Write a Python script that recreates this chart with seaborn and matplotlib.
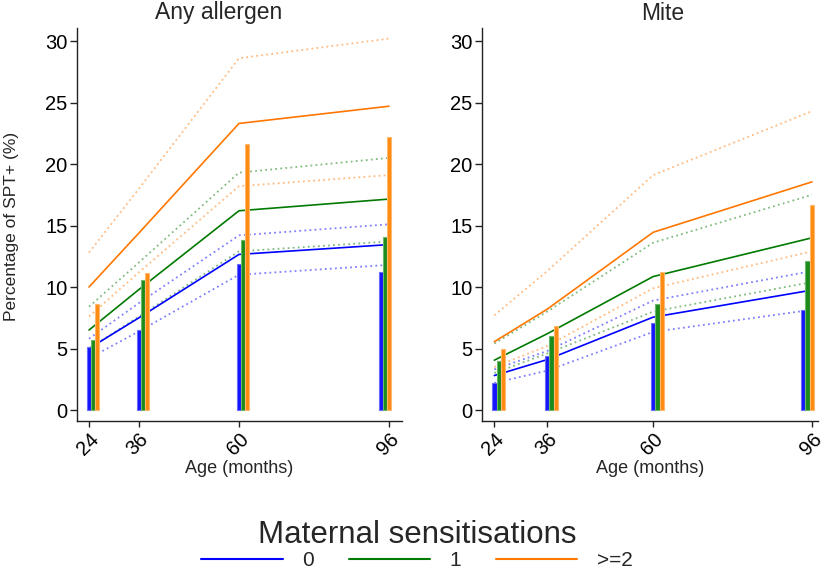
import numpy as np
import pandas as pd
import matplotlib
matplotlib.use("Agg")
import matplotlib.pyplot as plt
import seaborn as sns
from matplotlib.lines import Line2D

# ---------------- data ----------------
ages = [24, 36, 60, 96]
groups = ["0", "1", ">=2"]
panels = ["Any allergen", "Mite"]

# observed percentages (bars)
bar_any_0 = [5.1, 6.5, 11.9, 11.2]
bar_any_1 = [5.7, 10.6, 13.8, 14.1]
bar_any_2 = [8.6, 11.1, 21.6, 22.2]
bar_mite_0 = [2.2, 4.4, 7.1, 8.1]
bar_mite_1 = [4.0, 6.0, 8.65, 12.1]
bar_mite_2 = [4.95, 6.8, 11.2, 16.7]

# fitted estimates and confidence limits (lines)
fit_any_0 = [5.0, 7.5, 12.65, 13.45]
lo_any_0 = [4.2, 6.4, 11.0, 11.8]
hi_any_0 = [5.8, 8.7, 14.2, 15.1]
fit_any_1 = [6.5, 9.8, 16.2, 17.15]
lo_any_1 = [5.0, 7.6, 12.9, 13.7]
hi_any_1 = [8.4, 12.0, 19.3, 20.5]
fit_any_2 = [10.0, 14.4, 23.3, 24.7]
lo_any_2 = [7.6, 11.2, 18.2, 19.1]
hi_any_2 = [12.8, 18.0, 28.6, 30.2]

fit_mite_0 = [2.8, 4.1, 7.55, 9.75]
lo_mite_0 = [2.2, 3.2, 6.35, 8.15]
hi_mite_0 = [3.3, 4.8, 8.9, 11.3]
fit_mite_1 = [4.05, 6.2, 10.85, 14.0]
lo_mite_1 = [3.0, 4.6, 8.0, 10.4]
hi_mite_1 = [5.4, 8.0, 13.6, 17.5]
fit_mite_2 = [5.55, 8.2, 14.45, 18.55]
lo_mite_2 = [3.5, 5.2, 9.9, 12.9]
hi_mite_2 = [7.7, 11.3, 19.1, 24.3]

y_ticks = [0, 5, 10, 15, 20, 25, 30]

bars = {
    "Any allergen": [bar_any_0, bar_any_1, bar_any_2],
    "Mite": [bar_mite_0, bar_mite_1, bar_mite_2],
}
lines = {
    "Any allergen": [(fit_any_0, lo_any_0, hi_any_0),
                     (fit_any_1, lo_any_1, hi_any_1),
                     (fit_any_2, lo_any_2, hi_any_2)],
    "Mite": [(fit_mite_0, lo_mite_0, hi_mite_0),
             (fit_mite_1, lo_mite_1, hi_mite_1),
             (fit_mite_2, lo_mite_2, hi_mite_2)],
}

rows = []
for p in panels:
    for g, (f, lo, hi) in zip(groups, lines[p]):
        for kind, vals in (("fit", f), ("lo", lo), ("hi", hi)):
            for a, v in zip(ages, vals):
                rows.append(dict(panel=p, group=g, kind=kind, age=a, value=v))
df = pd.DataFrame(rows)

# ---------------- style ----------------
sns.set_theme(style="ticks")
plt.rcParams["font.family"] = ["Liberation Sans", "DejaVu Sans"]

line_cols = {"0": "#0000ff", "1": "#007a00", ">=2": "#ff7700"}
bar_face = {"0": "#1414ff", "1": "#1a8a1a", ">=2": "#ff8a10"}
bar_edge = {"0": "#6a6aff", "1": "#6ab86a", ">=2": "#ffb870"}

fig = plt.figure(figsize=(8.29, 5.74), dpi=100)
W, H = 829, 574
ax_boxes = {
    "Any allergen": (77, 402),
    "Mite": (482, 818),
}
xlims = {"Any allergen": (21.12, 99.12), "Mite": (21.21, 97.36)}
top_px, bot_px = 28, 420.7

for p in panels:
    x0, x1 = ax_boxes[p]
    ax = fig.add_axes([x0 / W, 1 - bot_px / H, (x1 - x0) / W, (bot_px - top_px) / H])
    sub = df[df.panel == p]
    # confidence limits (dotted, light)
    ci = sub[sub.kind != "fit"]
    sns.lineplot(data=ci, x="age", y="value", hue="group", units="kind",
                 estimator=None, palette=line_cols, hue_order=groups,
                 linewidth=1.3, alpha=0.5, linestyle=(0, (1, 1.8)),
                 legend=False, ax=ax, zorder=2)
    fit = sub[sub.kind == "fit"]
    sns.lineplot(data=fit, x="age", y="value", hue="group", estimator=None,
                 palette=line_cols, hue_order=groups, linewidth=1.2,
                 legend=False, ax=ax, zorder=3)
    # bars (thin, side by side)
    for gi, (g, vals) in enumerate(zip(groups, bars[p])):
        for ai, (a, v) in enumerate(zip(ages, vals)):
            shift = gi if ai < len(ages) - 1 else gi - 2
            ax.bar(a + shift, v, width=1.0, color=bar_face[g],
                   edgecolor=bar_edge[g], linewidth=0.8, zorder=4)
    ax.set_xlim(*xlims[p])
    ax.set_ylim(-0.87, 31.06)
    ax.set_xticks(ages)
    ax.set_xticklabels([str(a) for a in ages], rotation=45, ha="right",
                       rotation_mode="anchor", fontsize=14.5)
    ax.set_yticks(y_ticks)
    ax.set_yticklabels([str(t) for t in y_ticks], fontsize=14.5)
    ax.tick_params(axis="y", length=5, width=1, pad=2, colors="#222222",
                   labelcolor="black")
    ax.tick_params(axis="x", length=4.5, width=1, pad=2, colors="#222222",
                   labelcolor="black")
    for s in ("top", "right"):
        ax.spines[s].set_visible(False)
    for s in ("left", "bottom"):
        ax.spines[s].set_linewidth(1.0)
        ax.spines[s].set_color("#222222")
    ax.set_xlabel("Age (months)", fontsize=13, labelpad=1)
    ax.set_ylabel("")
    ax.grid(False)

fig.text(219 / W, 1 - 13 / H, "Any allergen", ha="center", va="center", fontsize=16.5)
fig.text(663 / W, 1 - 13 / H, "Mite", ha="center", va="center", fontsize=16.5)
fig.text(12 / W, 1 - 226 / H, "Percentage of SPT+ (%)", rotation=90,
         ha="center", va="center", fontsize=12.5)

handles = [Line2D([], [], color=line_cols[g], linewidth=1.5) for g in groups]
leg = fig.legend(handles, groups, loc="center", bbox_to_anchor=(417 / W, 1 - 545 / H),
                 ncol=3, frameon=False, fontsize=15, handlelength=3.9,
                 handletextpad=0.95, columnspacing=1.65,
                 title="Maternal sensitisations", title_fontsize=22.5,
                 borderaxespad=0, borderpad=0)
leg._legend_box.sep = 1

fig.savefig("out.png", dpi=100)
